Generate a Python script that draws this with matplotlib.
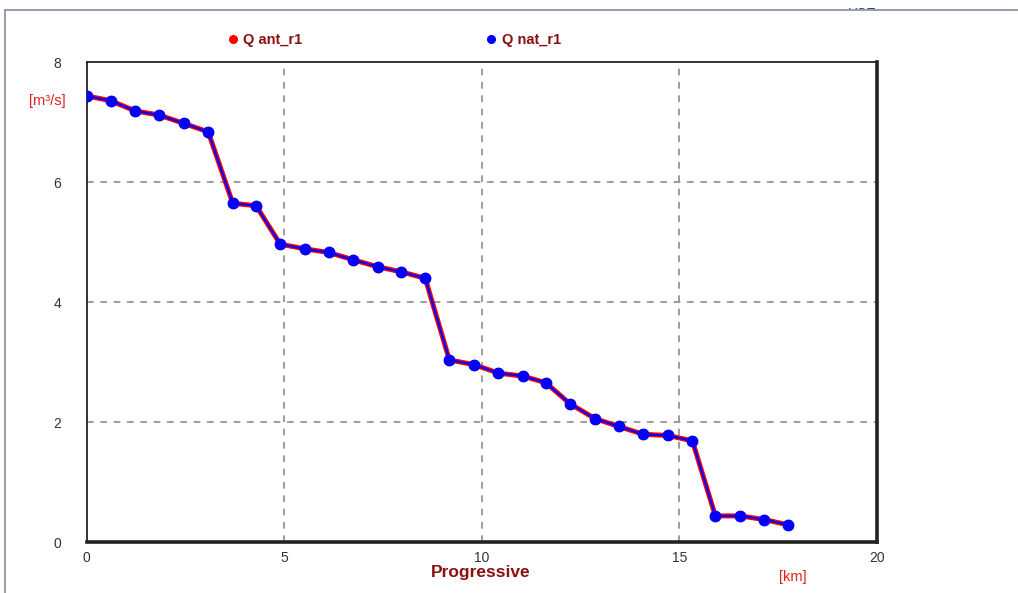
import matplotlib
matplotlib.use("Agg")
import matplotlib.pyplot as plt
from matplotlib.lines import Line2D
from matplotlib.patches import Rectangle

# Progressive distance along the reach [km]
progressive_km = [0.00, 0.61, 1.23, 1.84, 2.47, 3.08, 3.70, 4.29, 4.90, 5.53,
                  6.13, 6.74, 7.38, 7.95, 8.57, 9.18, 9.81, 10.42, 11.04, 11.62,
                  12.23, 12.87, 13.47, 14.09, 14.72, 15.33, 15.91, 16.54, 17.14, 17.76]

# Discharge [m3/s]
q_ant_r1 = [7.44, 7.36, 7.19, 7.12, 6.98, 6.84, 5.65, 5.61, 4.97, 4.89,
            4.83, 4.71, 4.59, 4.51, 4.40, 3.04, 2.96, 2.82, 2.77, 2.66,
            2.31, 2.06, 1.93, 1.80, 1.78, 1.69, 0.44, 0.44, 0.38, 0.29]
q_nat_r1 = [7.44, 7.36, 7.19, 7.12, 6.98, 6.84, 5.65, 5.61, 4.97, 4.89,
            4.83, 4.71, 4.59, 4.51, 4.40, 3.04, 2.96, 2.82, 2.77, 2.66,
            2.31, 2.06, 1.93, 1.80, 1.78, 1.69, 0.44, 0.44, 0.38, 0.29]

series_names = ["Q ant_r1", "Q nat_r1"]
x_ticks = [0, 5, 10, 15, 20]
y_ticks = [0, 2, 4, 6, 8]

fam = ["Liberation Sans", "DejaVu Sans"]
plt.rcParams["font.family"] = fam

W, H = 1018, 593
fig = plt.figure(figsize=(W / 100, H / 100), dpi=100)
ax = fig.add_axes([86.5 / W, 1 - 542.3 / H, (877 - 86.5) / W, (542.3 - 62.3) / H])

ax.plot(progressive_km, q_ant_r1, color="#ff0000", lw=3.6, marker="o",
        ms=7, mec="#ff0000", mfc="#ff0000", zorder=3)
ax.plot(progressive_km, q_nat_r1, color="#0000ff", lw=1.6, marker="o",
        ms=7.5, mec="#0000ff", mfc="#0000ff", zorder=4)

ax.set_xlim(0, 20)
ax.set_ylim(0, 8)
ax.set_xticks(x_ticks)
ax.set_yticks(y_ticks)
ax.tick_params(length=0, labelsize=10, labelcolor="#333333")
ax.tick_params(axis="y", pad=18)
ax.tick_params(axis="x", pad=6)

for v in [5, 10, 15]:
    ax.axvline(v, color="#8c8c8c", lw=1.2, ls=(0, (4, 4)), zorder=1)
for v in [2, 4, 6]:
    ax.axhline(v, color="#8c8c8c", lw=1.2, ls=(0, (4, 4)), zorder=1)

for side in ["left", "top"]:
    ax.spines[side].set_linewidth(1.3)
for side in ["right", "bottom"]:
    ax.spines[side].set_linewidth(2.6)
for s in ax.spines.values():
    s.set_color("#222222")

# Axis labels
fig.text(47 / W, 1 - 101 / H, "[m³/s]", color="#e02020", fontsize=10.5,
         ha="center", va="center")
fig.text(481 / W, 1 - 573 / H, "Progressive", color="#8b1010", fontsize=12.5,
         fontweight="bold", ha="center", va="center")
fig.text(793 / W, 1 - 577 / H, "[km]", color="#e02020", fontsize=10.5,
         ha="center", va="center")

# Legend
handles = [Line2D([], [], ls="none", marker="o", ms=5.5, color="#ff0000"),
           Line2D([], [], ls="none", marker="o", ms=5.5, color="#0000ff")]
leg = fig.legend(handles, series_names, loc="center left",
                 bbox_to_anchor=(215 / W, 1 - 40 / H), ncol=2, frameon=False,
                 handlelength=0.6, handletextpad=0.45, columnspacing=12.6,
                 prop={"family": fam, "weight": "bold", "size": 10.5})
for t in leg.get_texts():
    t.set_color("#8b1010")

# Window frame
fig.add_artist(Line2D([5 / W, 1], [1 - 10 / H, 1 - 10 / H], color="#7f8fa6",
                      lw=1.2, transform=fig.transFigure))
fig.add_artist(Line2D([5 / W, 5 / W], [0, 1 - 10 / H], color="#7f8fa6",
                      lw=1.2, transform=fig.transFigure))
fig.text(862 / W, 1 - 5 / H, "RSE", color="#3a3a8a", fontsize=10,
         ha="center", va="center")
fig.add_artist(Rectangle((0, 1 - 8 / H), 1, 8 / H, facecolor="white",
                         edgecolor="none", transform=fig.transFigure, zorder=10))

fig.savefig("out.png", dpi=100)
